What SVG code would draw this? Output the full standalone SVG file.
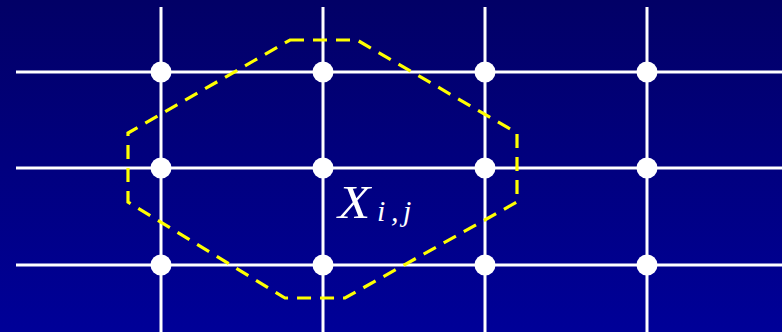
<svg xmlns="http://www.w3.org/2000/svg" width="782" height="332" viewBox="0 0 782 332">
<defs>
<linearGradient id="bg" x1="0" y1="0" x2="0" y2="1">
<stop offset="0" stop-color="#020066"/>
<stop offset="1" stop-color="#000098"/>
</linearGradient>
<style>
.grid{stroke:#ffffff;stroke-width:3;fill:none}
.node{fill:#ffffff}
.hull{stroke:#ffff00;stroke-width:3.2;fill:none;stroke-dasharray:14 9}
.lbl{fill:#ffffff;font-family:"Liberation Serif","DejaVu Serif",serif;font-style:italic}
</style>
</defs>
<rect width="782" height="332" fill="url(#bg)"/>
<g id="connectors">
<line class="grid" x1="16" y1="72" x2="782" y2="72"/>
<line class="grid" x1="16" y1="168" x2="782" y2="168"/>
<line class="grid" x1="16" y1="265" x2="782" y2="265"/>
<line class="grid" x1="161" y1="7" x2="161" y2="332"/>
<line class="grid" x1="323" y1="7" x2="323" y2="332"/>
<line class="grid" x1="485" y1="7" x2="485" y2="332"/>
<line class="grid" x1="647" y1="7" x2="647" y2="332"/>
</g>
<g id="hull">
<polygon class="hull" points="290,40 357,40 517,133 517,202 345,298 285,298 128,202 128,133"/>
</g>
<g id="n11"><circle class="node" cx="161" cy="72" r="10.5"/></g>
<g id="n12"><circle class="node" cx="323" cy="72" r="10.5"/></g>
<g id="n13"><circle class="node" cx="485" cy="72" r="10.5"/></g>
<g id="n14"><circle class="node" cx="647" cy="72" r="10.5"/></g>
<g id="n21"><circle class="node" cx="161" cy="168" r="10.5"/></g>
<g id="n22"><circle class="node" cx="323" cy="168" r="10.5"/></g>
<g id="n23"><circle class="node" cx="485" cy="168" r="10.5"/></g>
<g id="n24"><circle class="node" cx="647" cy="168" r="10.5"/></g>
<g id="n31"><circle class="node" cx="161" cy="265" r="10.5"/></g>
<g id="n32"><circle class="node" cx="323" cy="265" r="10.5"/></g>
<g id="n33"><circle class="node" cx="485" cy="265" r="10.5"/></g>
<g id="n34"><circle class="node" cx="647" cy="265" r="10.5"/></g>
<g id="label">
<text class="lbl" transform="translate(338,218) scale(1.15,1)" font-size="46">X</text>
<text class="lbl" y="221" font-size="30"><tspan x="377">i</tspan><tspan x="391">,</tspan><tspan x="403">j</tspan></text>
</g>
</svg>
